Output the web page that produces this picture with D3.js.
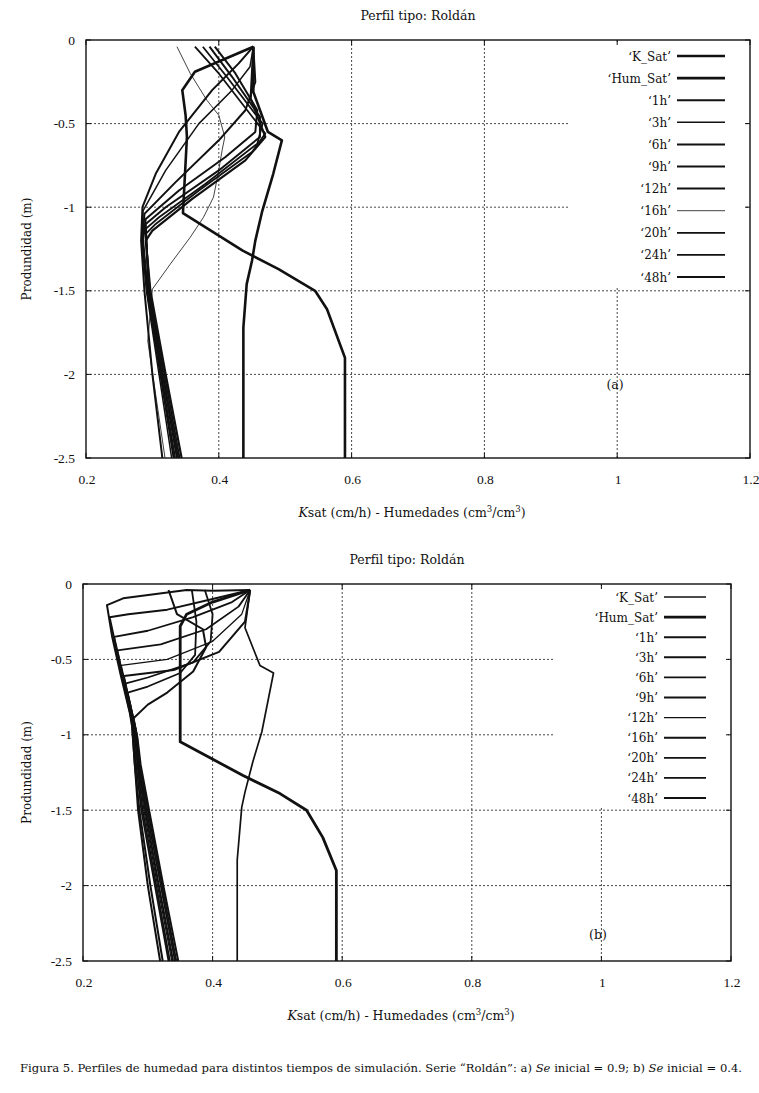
<!DOCTYPE html>
<html lang="es">
<head>
<meta charset="UTF-8">
<title>Perfiles de humedad - Roldán</title>
<script src="https://d3js.org/d3.v7.min.js"></script>
<style>
  body { margin: 0; background: #fff; }
  text { font-family: "DejaVu Serif", "Liberation Serif", serif; fill: #111; }
  text.num { font-family: "Liberation Serif", "DejaVu Serif", serif; }
</style>
</head>
<body>
<svg id="fig" width="759" height="1093"></svg>
<script>
// ---- values ----
const xTicks = [0.2, 0.4, 0.6, 0.8, 1, 1.2];
const yTicks = [0, -0.5, -1, -1.5, -2, -2.5];
const seriesNames = ["K_Sat", "Hum_Sat", "1h", "3h", "6h", "9h", "12h", "16h", "20h", "24h", "48h"];

// a) Se inicial = 0.9
const a_kSat = [[0.452,-0.04],[0.452,-0.31],[0.474,-0.55],[0.495,-0.6],[0.482,-0.8],[0.465,-1.03],[0.455,-1.2],[0.45,-1.32],[0.442,-1.46],[0.437,-1.72],[0.437,-2.5]];
const a_humSat = [[0.452,-0.04],[0.364,-0.19],[0.345,-0.3],[0.35,-0.45],[0.352,-0.58],[0.346,-1.035],[0.4,-1.17],[0.436,-1.26],[0.49,-1.37],[0.545,-1.5],[0.563,-1.61],[0.59,-1.9],[0.59,-2.5]];
const a_1h = [[0.452,-0.04],[0.43,-0.14],[0.39,-0.3],[0.34,-0.55],[0.305,-0.8],[0.285,-1.0],[0.283,-1.2],[0.288,-1.5],[0.3,-2.0],[0.315,-2.5]];
const a_3h = [[0.452,-0.04],[0.447,-0.16],[0.42,-0.3],[0.37,-0.5],[0.32,-0.78],[0.286,-1.02],[0.284,-1.2],[0.291,-1.5],[0.31,-2.0],[0.329,-2.5]];
const a_6h = [[0.452,-0.04],[0.455,-0.25],[0.44,-0.42],[0.4,-0.6],[0.335,-0.85],[0.288,-1.04],[0.285,-1.2],[0.292,-1.5],[0.312,-2.0],[0.332,-2.5]];
const a_9h = [[0.394,-0.04],[0.425,-0.2],[0.458,-0.42],[0.455,-0.55],[0.41,-0.7],[0.34,-0.9],[0.29,-1.07],[0.286,-1.2],[0.293,-1.5],[0.313,-2.0],[0.334,-2.5]];
const a_12h = [[0.386,-0.04],[0.42,-0.22],[0.462,-0.46],[0.462,-0.58],[0.4,-0.78],[0.32,-1.0],[0.29,-1.1],[0.294,-1.5],[0.315,-2.0],[0.337,-2.5]];
const a_16h = [[0.337,-0.04],[0.357,-0.2],[0.382,-0.36],[0.4,-0.45],[0.409,-0.58],[0.405,-0.66],[0.399,-0.8],[0.392,-0.94],[0.377,-1.06],[0.357,-1.18],[0.327,-1.34],[0.3,-1.49],[0.293,-1.8],[0.319,-2.5]];
const a_20h = [[0.376,-0.04],[0.412,-0.22],[0.466,-0.5],[0.458,-0.62],[0.38,-0.86],[0.31,-1.06],[0.29,-1.13],[0.295,-1.5],[0.316,-2.0],[0.339,-2.5]];
const a_24h = [[0.364,-0.04],[0.4,-0.2],[0.47,-0.56],[0.45,-0.67],[0.37,-0.9],[0.305,-1.1],[0.29,-1.16],[0.296,-1.5],[0.318,-2.0],[0.341,-2.5]];
const a_48h = [[0.452,-0.04],[0.448,-0.35],[0.47,-0.58],[0.44,-0.72],[0.36,-0.95],[0.3,-1.14],[0.29,-1.2],[0.297,-1.5],[0.32,-2.0],[0.344,-2.5]];

// b) Se inicial = 0.4
const b_kSat = [[0.458,-0.04],[0.45,-0.29],[0.473,-0.54],[0.494,-0.59],[0.476,-0.98],[0.462,-1.18],[0.45,-1.38],[0.445,-1.48],[0.438,-1.83],[0.438,-2.5]];
const b_humSat = [[0.458,-0.04],[0.4,-0.12],[0.36,-0.2],[0.35,-0.28],[0.35,-0.6],[0.35,-1.046],[0.447,-1.27],[0.504,-1.39],[0.545,-1.5],[0.57,-1.68],[0.591,-1.9],[0.591,-2.5]];
const b_1h = [[0.458,-0.04],[0.4,-0.045],[0.36,-0.04],[0.262,-0.095],[0.237,-0.14],[0.245,-0.35],[0.258,-0.6],[0.272,-0.85],[0.276,-0.95],[0.28,-1.2],[0.285,-1.5],[0.3,-2.0],[0.319,-2.5]];
const b_3h = [[0.458,-0.04],[0.4,-0.1],[0.33,-0.17],[0.27,-0.2],[0.241,-0.22],[0.25,-0.4],[0.262,-0.65],[0.275,-0.9],[0.28,-1.2],[0.287,-1.5],[0.304,-2.0],[0.323,-2.5]];
const b_6h = [[0.458,-0.04],[0.43,-0.12],[0.37,-0.22],[0.3,-0.31],[0.248,-0.35],[0.256,-0.5],[0.268,-0.75],[0.277,-0.92],[0.282,-1.2],[0.29,-1.5],[0.311,-2.0],[0.332,-2.5]];
const b_9h = [[0.458,-0.04],[0.44,-0.15],[0.39,-0.3],[0.32,-0.4],[0.253,-0.44],[0.262,-0.62],[0.274,-0.85],[0.279,-0.95],[0.284,-1.2],[0.292,-1.5],[0.313,-2.0],[0.334,-2.5]];
const b_12h = [[0.458,-0.04],[0.445,-0.2],[0.4,-0.38],[0.33,-0.5],[0.259,-0.54],[0.265,-0.65],[0.276,-0.88],[0.28,-0.96],[0.285,-1.2],[0.294,-1.5],[0.315,-2.0],[0.337,-2.5]];
const b_16h = [[0.458,-0.04],[0.45,-0.25],[0.41,-0.45],[0.34,-0.57],[0.263,-0.61],[0.27,-0.75],[0.278,-0.9],[0.281,-0.97],[0.286,-1.2],[0.296,-1.5],[0.317,-2.0],[0.339,-2.5]];
const b_20h = [[0.388,-0.04],[0.4,-0.2],[0.397,-0.38],[0.37,-0.52],[0.3,-0.62],[0.265,-0.66],[0.273,-0.8],[0.279,-0.92],[0.282,-0.98],[0.287,-1.2],[0.298,-1.5],[0.32,-2.0],[0.342,-2.5]];
const b_24h = [[0.368,-0.04],[0.375,-0.25],[0.373,-0.47],[0.35,-0.59],[0.3,-0.68],[0.269,-0.72],[0.277,-0.88],[0.283,-1.0],[0.288,-1.2],[0.3,-1.5],[0.322,-2.0],[0.344,-2.5]];
const b_48h = [[0.332,-0.04],[0.345,-0.2],[0.385,-0.3],[0.39,-0.42],[0.37,-0.58],[0.33,-0.72],[0.3,-0.8],[0.278,-0.89],[0.284,-1.02],[0.289,-1.2],[0.302,-1.5],[0.324,-2.0],[0.347,-2.5]];

const panels = [
  { series: [a_kSat, a_humSat, a_1h, a_3h, a_6h, a_9h, a_12h, a_16h, a_20h, a_24h, a_48h],
    widths: [2.6, 2.6, 2, 1.5, 2, 2, 2, 0.8, 1.8, 1.8, 2.2],
    box: {l: 86, t: 40, r: 750, b: 458}, tag: "(a)", tagPos: [615, 389],
    leg: {x0: 568, y0: 42, x1: 745, y1: 286, row0: 56, step: 22.1, tx: 671, lx0: 677, lx1: 725} },
  { series: [b_kSat, b_humSat, b_1h, b_3h, b_6h, b_9h, b_12h, b_16h, b_20h, b_24h, b_48h],
    widths: [1.7, 2.8, 2, 2, 1.8, 1.8, 1.3, 2, 1.8, 1.8, 2],
    box: {l: 83, t: 584, r: 731, b: 961}, tag: "(b)", tagPos: [598, 939],
    leg: {x0: 553, y0: 586, x1: 728, y1: 808, row0: 597, step: 20.1, tx: 658, lx0: 664, lx1: 706} }
];

const svg = d3.select("#fig");

panels.forEach(p => {
  const B = p.box;
  const x = d3.scaleLinear().domain([0.2, 1.2]).range([B.l, B.r]);
  const y = d3.scaleLinear().domain([-2.5, 0]).range([B.b, B.t]);
  const g = svg.append("g");
  const cx = (B.l + B.r) / 2;

  // dotted grid
  g.selectAll("line.gx").data(xTicks.slice(1, -1)).enter().append("line")
    .attr("x1", d => x(d)).attr("x2", d => x(d)).attr("y1", B.t).attr("y2", B.b)
    .attr("stroke", "#333").attr("stroke-width", 0.9).attr("stroke-dasharray", "2,2");
  g.selectAll("line.gy").data(yTicks.slice(1, -1)).enter().append("line")
    .attr("y1", d => y(d)).attr("y2", d => y(d)).attr("x1", B.l).attr("x2", B.r)
    .attr("stroke", "#333").attr("stroke-width", 0.9).attr("stroke-dasharray", "2,2");

  // legend box hides the grid
  const L = p.leg;
  g.append("rect").attr("x", L.x0).attr("y", L.y0).attr("width", L.x1 - L.x0).attr("height", L.y1 - L.y0).attr("fill", "#fff");
  seriesNames.forEach((name, i) => {
    const yy = L.row0 + i * L.step;
    g.append("text").attr("x", L.tx).attr("y", yy + 4.5).attr("text-anchor", "end")
      .attr("font-size", 12).text("\u2018" + name + "\u2019");
    g.append("line").attr("x1", L.lx0).attr("x2", L.lx1).attr("y1", yy).attr("y2", yy)
      .attr("stroke", "#111").attr("stroke-width", p.widths[i]);
  });

  // curves
  const line = d3.line().x(d => x(d[0])).y(d => y(d[1]));
  p.series.forEach((s, i) => {
    g.append("path").attr("d", line(s)).attr("fill", "none")
      .attr("stroke", "#111").attr("stroke-width", p.widths[i]).attr("stroke-linejoin", "round");
  });

  // frame and inward ticks (gnuplot style, mirrored)
  g.append("rect").attr("x", B.l).attr("y", B.t).attr("width", B.r - B.l).attr("height", B.b - B.t)
    .attr("fill", "none").attr("stroke", "#111").attr("stroke-width", 1.4);
  const tk = 5;
  xTicks.forEach(v => {
    g.append("line").attr("x1", x(v)).attr("x2", x(v)).attr("y1", B.b).attr("y2", B.b - tk).attr("stroke", "#111");
    g.append("line").attr("x1", x(v)).attr("x2", x(v)).attr("y1", B.t).attr("y2", B.t + tk).attr("stroke", "#111");
  });
  yTicks.forEach(v => {
    g.append("line").attr("y1", y(v)).attr("y2", y(v)).attr("x1", B.l).attr("x2", B.l + tk).attr("stroke", "#111");
    g.append("line").attr("y1", y(v)).attr("y2", y(v)).attr("x1", B.r).attr("x2", B.r - tk).attr("stroke", "#111");
  });

  // tick labels
  g.selectAll("text.xl").data(xTicks).enter().append("text").attr("class", "num")
    .attr("x", d => x(d) + 1).attr("y", B.b + 26).attr("text-anchor", "middle").attr("font-size", 13.5)
    .text(d => d3.format("")(d));
  g.selectAll("text.yl").data(yTicks).enter().append("text").attr("class", "num")
    .attr("x", B.l - 11).attr("y", d => y(d) + 4.5).attr("text-anchor", "end").attr("font-size", 13.5)
    .text(d => String(d));

  // titles
  g.append("text").attr("x", cx).attr("y", B.t - 20).attr("text-anchor", "middle").attr("font-size", 12.5)
    .text("Perfil tipo: Roldán");
  const xt = g.append("text").attr("x", cx - 6).attr("y", B.b + 59).attr("text-anchor", "middle").attr("font-size", 12.5);
  xt.append("tspan").attr("font-style", "italic").text("K");
  xt.append("tspan").text("sat (cm/h) - Humedades (cm");
  xt.append("tspan").attr("dy", -5).attr("font-size", 8.5).text("3");
  xt.append("tspan").attr("dy", 5).text("/cm");
  xt.append("tspan").attr("dy", -5).attr("font-size", 8.5).text("3");
  xt.append("tspan").attr("dy", 5).text(")");
  g.append("text").attr("transform", `translate(31,${(B.t + B.b) / 2}) rotate(-90)`)
    .attr("text-anchor", "middle").attr("font-size", 12).text("Produndidad (m)");
  g.append("text").attr("x", p.tagPos[0]).attr("y", p.tagPos[1]).attr("text-anchor", "middle")
    .attr("font-size", 12.5).text(p.tag);
});

// caption
const cap = svg.append("text").attr("x", 20).attr("y", 1072).attr("font-size", 11.6);
cap.append("tspan").text("Figura 5. Perfiles de humedad para distintos tiempos de simulación. Serie \u201cRoldán\u201d: a) ");
cap.append("tspan").attr("font-style", "italic").text("Se");
cap.append("tspan").text(" inicial = 0.9; b) ");
cap.append("tspan").attr("font-style", "italic").text("Se");
cap.append("tspan").text(" inicial = 0.4.");
</script>
</body>
</html>
